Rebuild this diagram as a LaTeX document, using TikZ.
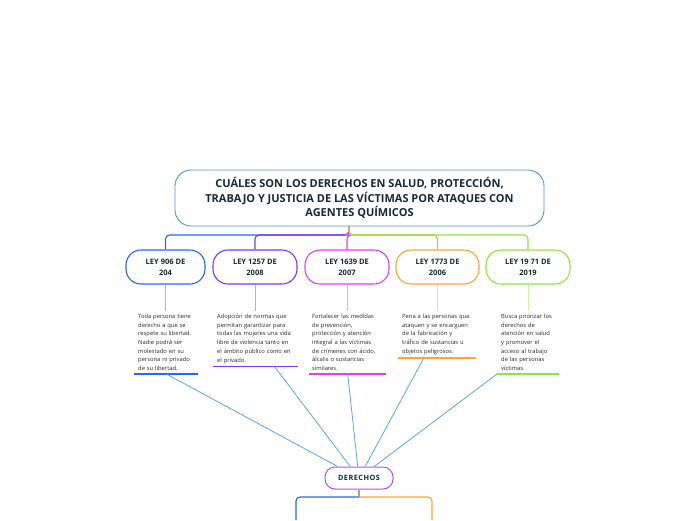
\documentclass[tikz,border=0pt]{standalone}
\usepackage{fontspec}
\setmainfont{Open Sans}
\usepackage{tikz}
\usetikzlibrary{calc}
\definecolor{inkcolor}{RGB}{22,42,58}
\definecolor{bodycolor}{RGB}{40,40,40}
\definecolor{titlecolor}{RGB}{80,150,220}
\definecolor{leyblue}{RGB}{40,100,255}
\definecolor{leypurple}{RGB}{125,55,245}
\definecolor{leymagenta}{RGB}{230,60,240}
\definecolor{leyorange}{RGB}{255,165,50}
\definecolor{leygreen}{RGB}{140,232,60}
\definecolor{dercolor}{RGB}{180,80,245}
\definecolor{linkcolor}{RGB}{95,165,240}
\definecolor{tancolor}{RGB}{200,155,105}

\tikzset{
  titlebox/.style={draw=titlecolor,line width=0.9,fill=white,rounded corners=16,
    minimum width=369,minimum height=56,align=center,text=inkcolor,
    font=\fontsize{11}{14.5}\selectfont\bfseries},
  leybox/.style={line width=1.1,fill=white,rounded corners=15,
    minimum height=34,align=center,text=inkcolor,
    font=\fontsize{7.5}{11}\selectfont\bfseries},
  bodytext/.style={anchor=north west,align=left,text=bodycolor,inner ysep=3,
    font=\fontsize{5.8}{8.67}\selectfont},
  link/.style={linkcolor,line width=0.8},
  derbox/.style={draw=dercolor,line width=1,fill=white,rounded corners=10,
    minimum width=68,minimum height=22,text=inkcolor,
    font=\fontsize{7.3}{8}\selectfont\bfseries}
}

\begin{document}
\begin{tikzpicture}[x=1pt,y=-1pt]
  \useasboundingbox (0,0) rectangle (696,520);

  % central topic
  \node[titlebox] (title) at (359.5,198)
    {CUÁLES SON LOS DERECHOS EN SALUD, PROTECCIÓN,\\
     TRABAJO Y JUSTICIA DE LAS VÍCTIMAS POR ATAQUES CON\\
     AGENTES QUÍMICOS};
  \coordinate (hub) at (349,235);

  % law boxes with their branch from the title
  \foreach \n/\x/\w/\col/\txt in {
      1/165.5/79/leyblue/{LEY 906 DE\\204},
      2/255/84/leypurple/{LEY 1257 DE\\2008},
      3/347/84/leymagenta/{LEY 1639 DE\\2007},
      4/437.5/83/leyorange/{LEY 1773 DE\\2006},
      5/528/84/leygreen/{LEY 19 71 DE\\2019}} {
    \node[leybox,draw=\col,minimum width=\w] (ley\n) at (\x,267) {\txt};
  }
  \foreach \n/\col in {1/leyblue,2/leypurple,3/leymagenta,4/leyorange,5/leygreen} {
    \draw[\col,line width=1.1,rounded corners=4]
      (hub |- title.south) -- (hub) -| (ley\n.north);
  }

  % descriptions under each law
  \node[bodytext,inner xsep=4,text width=56] (desc1) at (134,311)
    {Toda persona tiene\\derecho a que se\\respete su libertad.\\Nadie podrá ser\\molestado en su\\persona ni privado\\de su libertad.};
  \node[bodytext,inner xsep=4,text width=77] (desc2) at (213,311)
    {Adopción de normas que\\permitan garantizar para\\todas las mujeres una vida\\libre de violencia tanto en\\el ámbito público como en\\el privado.};
  \node[bodytext,inner xsep=3,text width=71] (desc3) at (309,311)
    {Fortalecer las medidas\\de prevención,\\protección y atención\\integral a las víctimas\\de crímenes con ácido,\\álcalis o sustancias\\similares.};
  \node[bodytext,inner xsep=4,text width=70] (desc4) at (398,311)
    {Pena a las personas que\\ataquen y se encarguen\\de la fabricación y\\tráfico de sustancias u\\objetos peligrosos.};
  \node[bodytext,inner xsep=4,text width=54] (desc5) at (497,311)
    {Busca priorizar los\\derechos de\\atención en salud\\y promover el\\acceso al trabajo\\de las personas\\víctimas.};

  \foreach \n/\col in {1/leyblue,2/leypurple,3/leymagenta,4/leyorange,5/leygreen} {
    \draw[\col!45,line width=0.8] (ley\n.south) -- (ley\n.south |- desc\n.north);
    \draw[\col,line width=1.5] (desc\n.south west) -- (desc\n.south east);
  }

  % rights topic
  \node[derbox] (der) at (359,478) {D\kern0.5ptE\kern0.5ptR\kern0.5ptE\kern0.5ptC\kern0.5ptH\kern0.5ptO\kern0.5ptS};
  \draw[link] (desc1.south) -- (der);
  \draw[link] ($(desc2.south west)!0.72!(desc2.south east)$) -- (der);
  \draw[link] (desc3.south) -- (der);
  \draw[link] ($(desc4.south west)!0.33!(desc4.south east)$) -- (der);
  \draw[link] (desc5.south west) -- (der);

  % branches leaving the picture
  \coordinate (fork) at (359,497);
  \coordinate (downleft) at (296,520);
  \coordinate (downright) at (432,520);
  \draw[tancolor,line width=1.1] (der.south) -- (fork);
  \draw[leyblue,line width=1.1,rounded corners=4] (fork) -| (downleft);
  \draw[leyorange,line width=1.1,rounded corners=4] (fork) -| (downright);
\end{tikzpicture}
\end{document}
